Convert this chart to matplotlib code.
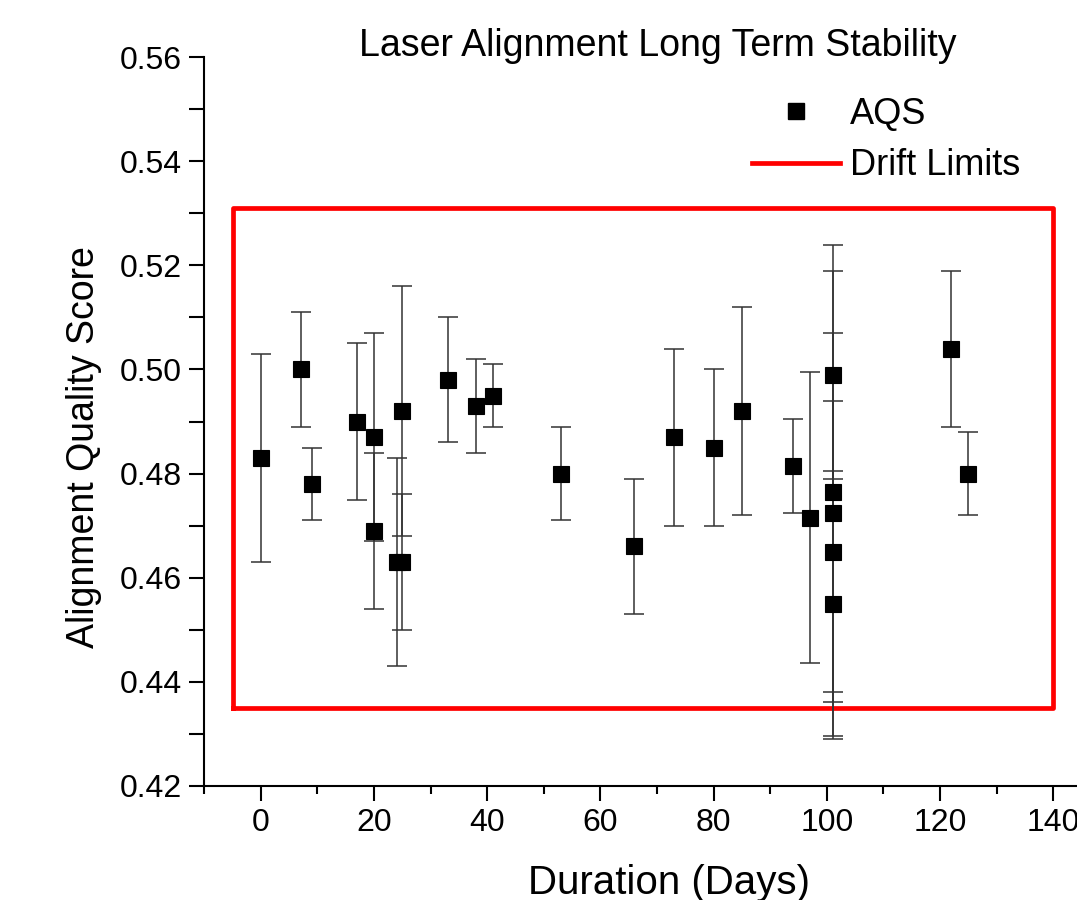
import matplotlib.pyplot as plt
from matplotlib.lines import Line2D
from matplotlib.ticker import MultipleLocator, FormatStrFormatter

plt.rcParams['font.family'] = ['Liberation Sans', 'DejaVu Sans']

days = [0, 7, 9, 17, 20, 20, 24, 25, 25, 33, 38, 41, 53, 66, 73, 80, 85,
        94, 97, 101, 101, 101, 101, 101, 122, 125]
aqs = [0.483, 0.500, 0.478, 0.490, 0.487, 0.469, 0.463, 0.463, 0.492,
       0.498, 0.493, 0.495, 0.480, 0.466, 0.487, 0.485, 0.492,
       0.4815, 0.4715, 0.499, 0.4765, 0.4725, 0.465, 0.455, 0.504, 0.480]
aqs_err = [0.020, 0.011, 0.007, 0.015, 0.020, 0.015, 0.020, 0.013, 0.024,
           0.012, 0.009, 0.006, 0.009, 0.013, 0.017, 0.015, 0.020,
           0.009, 0.028, 0.020, 0.0475, 0.0345, 0.029, 0.0255, 0.015, 0.008]

# drift limit box
limit_days = [-5, 140, 140, -5, -5]
limit_aqs = [0.435, 0.435, 0.531, 0.531, 0.435]

fig = plt.figure(figsize=(10.77, 9), dpi=100)
ax = fig.add_axes([0.1897, 0.1270, 0.8103, 0.8093])

ax.plot(limit_days, limit_aqs, color='#ff0000', linewidth=3.4, zorder=2)
ax.errorbar(days, aqs, yerr=aqs_err, fmt='none', ecolor='#333333',
            elinewidth=1.1, capsize=7, capthick=1.1, zorder=3)
ax.plot(days, aqs, 's', color='black', markersize=11, markeredgewidth=0.8, zorder=4)

ax.set_xlim(-10, 144.2)
ax.set_ylim(0.42, 0.56)

ax.spines['top'].set_visible(False)
ax.spines['right'].set_visible(False)
ax.spines['left'].set_linewidth(1.5)
ax.spines['bottom'].set_linewidth(1.5)

ax.xaxis.set_major_locator(MultipleLocator(20))
ax.xaxis.set_minor_locator(MultipleLocator(10))
ax.yaxis.set_major_locator(MultipleLocator(0.02))
ax.yaxis.set_minor_locator(MultipleLocator(0.01))
ax.yaxis.set_major_formatter(FormatStrFormatter('%.2f'))

ax.tick_params(which='major', direction='out', length=11, width=1.5, labelsize=23, pad=5)
ax.tick_params(axis='x', which='minor', direction='out', length=6, width=1.5)
ax.tick_params(axis='y', which='minor', direction='out', length=11, width=1.5)

fig.text(657.5 / 1077, 1 - 46 / 900, 'Laser Alignment Long Term Stability',
         ha='center', va='center', fontsize=27)
fig.text(669.5 / 1077, 1 - 883 / 900, 'Duration (Days)',
         ha='center', va='center', fontsize=29)
fig.text(84 / 1077, 1 - 447 / 900, 'Alignment Quality Score',
         ha='center', va='center', rotation=90, fontsize=27)

handles = [Line2D([], [], marker='s', linestyle='none', color='black', markersize=11),
           Line2D([], [], color='#ff0000', linewidth=3.4)]
ax.legend(handles, ['AQS', 'Drift Limits'], loc='upper left',
          bbox_to_anchor=(752 / 1077, 1 - 97 / 900), bbox_transform=fig.transFigure,
          frameon=False, fontsize=26, borderpad=0, borderaxespad=0,
          handlelength=2.44, handletextpad=0.28, labelspacing=0.45)

fig.savefig('out.png', dpi=100)
